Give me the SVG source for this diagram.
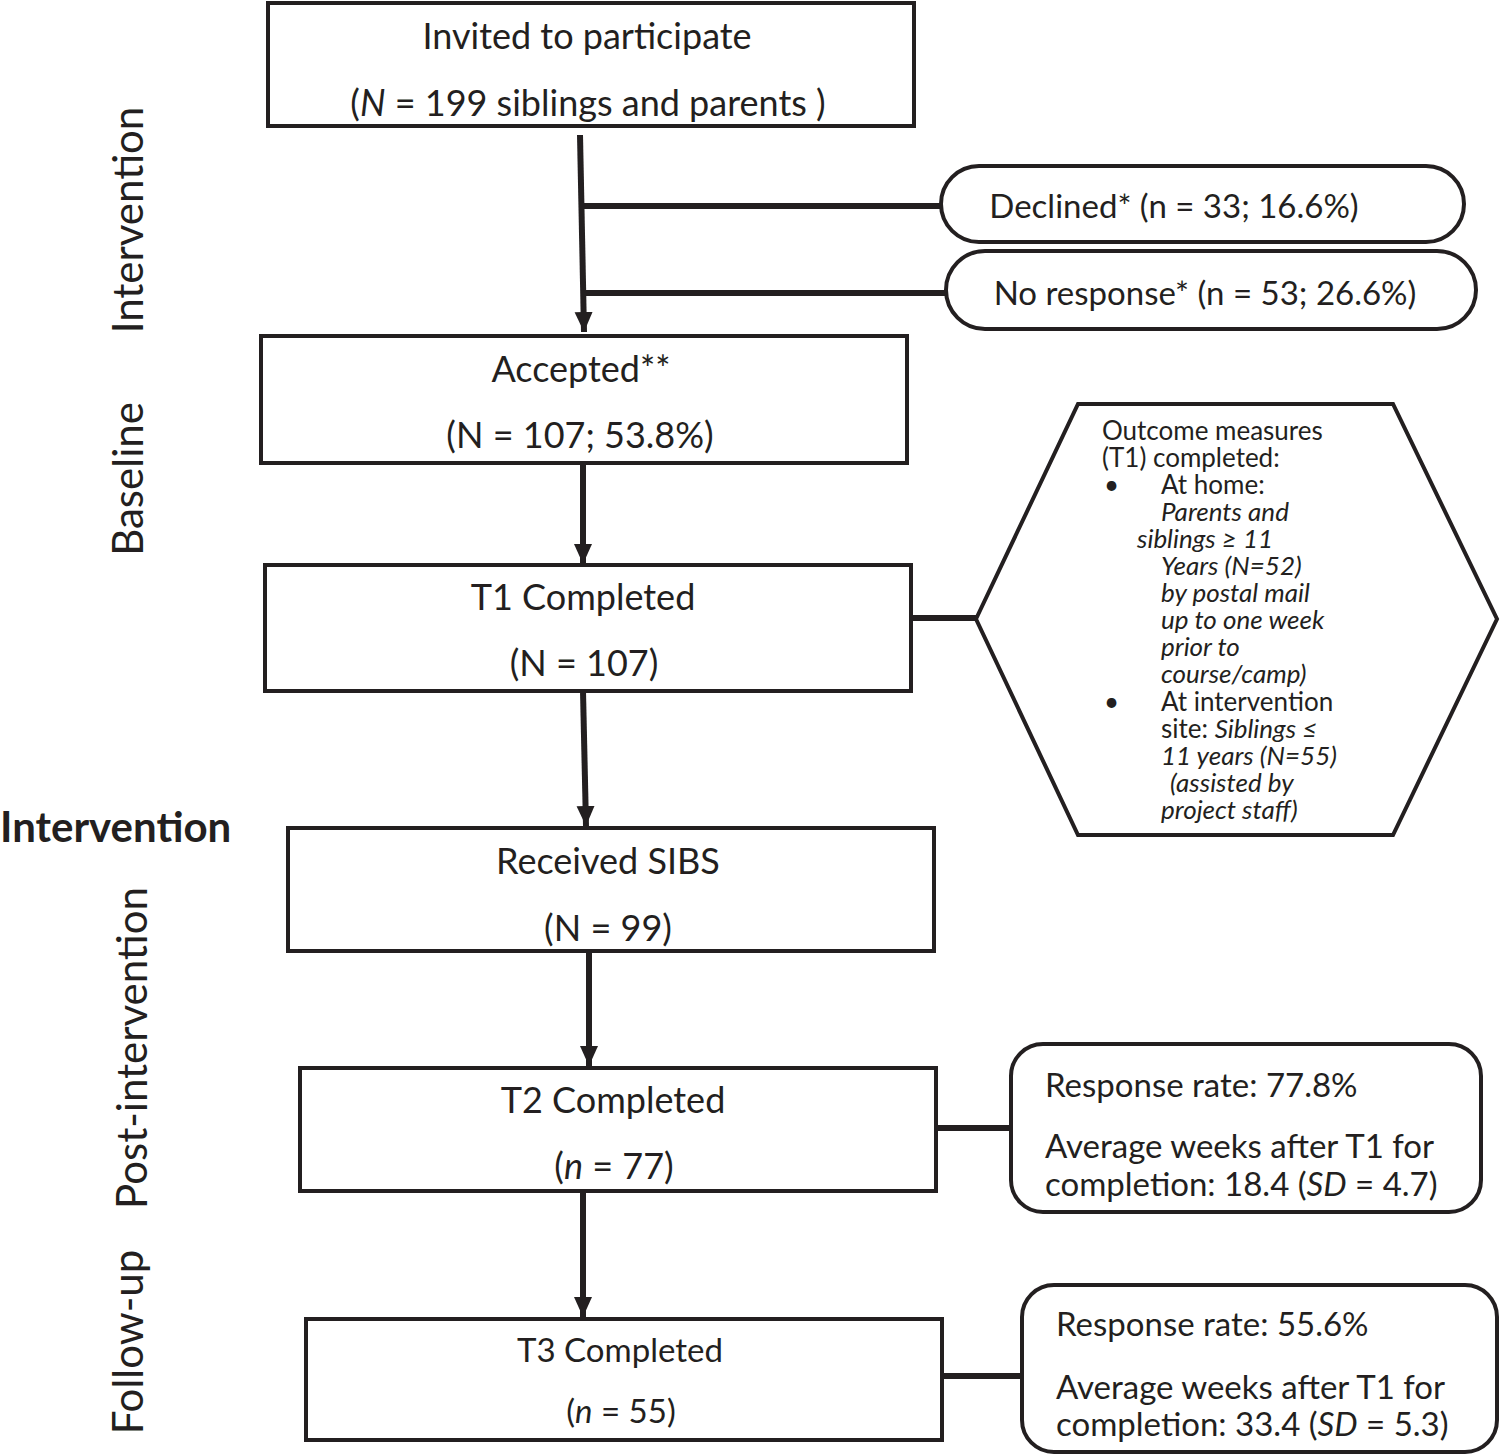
<svg xmlns="http://www.w3.org/2000/svg" width="1500" height="1456" viewBox="0 0 1500 1456">
<defs>
<marker id="ah" markerUnits="userSpaceOnUse" markerWidth="22" markerHeight="20" refX="20" refY="9" orient="auto"><path d="M0,0 L20,9 L0,18 z" fill="#231f20"/></marker>
<style>
.box{fill:#fff;stroke:#231f20;stroke-width:4}
.c{stroke:#231f20;stroke-width:6;fill:none}
text{font-family:Lato,"Open Sans","Liberation Sans",sans-serif;fill:#231f20}
.t{font-size:36px;text-anchor:middle}
.o{font-size:33px;text-anchor:middle}
.s{font-size:33px}
.h{font-size:26px}
.side{font-size:42px;text-anchor:middle}
.i{font-style:italic}
</style>
</defs>
<rect width="1500" height="1456" fill="#fff"/>
<g id="labels">
<text class="side" transform="translate(143,220) rotate(-90)">Intervention</text>
<text class="side" transform="translate(143,479) rotate(-90)">Baseline</text>
<text x="0" y="842" style="font-size:42px;font-weight:bold">Intervention</text>
<text class="side" transform="translate(147,1048) rotate(-90)">Post-intervention</text>
<text class="side" transform="translate(143,1342) rotate(-90)">Follow-up</text>
</g>
<g id="connectors">
<line class="c" x1="580" y1="135" x2="584" y2="332" marker-end="url(#ah)"/>
<line class="c" x1="581" y1="206" x2="945" y2="206"/>
<line class="c" x1="583" y1="293" x2="948" y2="293"/>
<line class="c" x1="583" y1="463" x2="583" y2="564" marker-end="url(#ah)"/>
<line class="c" x1="908" y1="618" x2="976" y2="618"/>
<line class="c" x1="583" y1="691" x2="586" y2="826" marker-end="url(#ah)"/>
<line class="c" x1="589" y1="951" x2="589" y2="1066" marker-end="url(#ah)"/>
<line class="c" x1="936" y1="1128" x2="1011" y2="1128"/>
<line class="c" x1="583" y1="1191" x2="583" y2="1317" marker-end="url(#ah)"/>
<line class="c" x1="942" y1="1376" x2="1022" y2="1376"/>
</g>
<g id="invited">
<rect class="box" x="268" y="3" width="646" height="123"/>
<text class="t" x="587" y="49">Invited to participate</text>
<text class="t" x="588" y="116">(<tspan class="i">N</tspan> = 199 siblings and parents )</text>
</g>
<g id="declined">
<rect class="box" x="941" y="166" width="523" height="76" rx="38"/>
<text class="o" x="1174" y="218">Declined* (n = 33; 16.6%)</text>
</g>
<g id="noresponse">
<rect class="box" x="946" y="251" width="530" height="78" rx="39"/>
<text class="o" x="1205" y="305">No response* (n = 53; 26.6%)</text>
</g>
<g id="accepted">
<rect class="box" x="261" y="336" width="646" height="127"/>
<text class="t" x="581" y="382">Accepted**</text>
<text class="t" x="580" y="448">(N = 107; 53.8%)</text>
</g>
<g id="t1">
<rect class="box" x="265" y="565" width="646" height="126"/>
<text class="t" x="583" y="610">T1 Completed</text>
<text class="t" x="584" y="676">(N = 107)</text>
</g>
<g id="outcome">
<polygon class="box" points="976,619 1078,404 1393,404 1497,619 1393,835 1078,835"/>
<text class="h" x="1102" y="440">Outcome measures</text>
<text class="h" x="1102" y="467">(T1) completed:</text>
<text class="h" x="1104" y="494">•</text>
<text class="h" x="1161" y="494">At home:</text>
<text class="h i" x="1161" y="521">Parents and</text>
<text class="h i" x="1137" y="548">siblings ≥ 11</text>
<text class="h i" x="1161" y="575">Years (N=52)</text>
<text class="h i" x="1161" y="602">by postal mail</text>
<text class="h i" x="1161" y="629">up to one week</text>
<text class="h i" x="1161" y="656">prior to</text>
<text class="h i" x="1161" y="683">course/camp)</text>
<text class="h" x="1104" y="711">•</text>
<text class="h" x="1161" y="711">At intervention</text>
<text class="h" x="1161" y="738">site: <tspan class="i">Siblings ≤</tspan></text>
<text class="h i" x="1161" y="765">11 years  (N=55)</text>
<text class="h i" x="1170" y="792">(assisted by</text>
<text class="h i" x="1161" y="819">project staff)</text>
</g>
<g id="sibs">
<rect class="box" x="288" y="828" width="646" height="123"/>
<text class="t" x="608" y="874">Received SIBS</text>
<text class="t" x="608" y="941">(N = 99)</text>
</g>
<g id="t2">
<rect class="box" x="300" y="1068" width="636" height="123"/>
<text class="t" x="613" y="1113">T2 Completed</text>
<text class="t" x="614" y="1179">(<tspan class="i">n</tspan> = 77)</text>
</g>
<g id="t2stats">
<rect class="box" x="1011" y="1044" width="470" height="168" rx="32"/>
<text class="s" x="1045" y="1097">Response rate: 77.8%</text>
<text class="s" x="1045" y="1158">Average weeks after T1 for</text>
<text class="s" x="1045" y="1196">completion: 18.4 (<tspan class="i">SD</tspan> = 4.7)</text>
</g>
<g id="t3">
<rect class="box" x="306" y="1319" width="636" height="121"/>
<text class="o" x="620" y="1362">T3 Completed</text>
<text class="o" x="621" y="1423">(<tspan class="i">n</tspan> = 55)</text>
</g>
<g id="t3stats">
<rect class="box" x="1022" y="1285" width="475" height="167" rx="32"/>
<text class="s" x="1056" y="1336">Response rate: 55.6%</text>
<text class="s" x="1056" y="1399">Average weeks after T1 for</text>
<text class="s" x="1056" y="1436">completion: 33.4 (<tspan class="i">SD</tspan> = 5.3)</text>
</g>
</svg>
